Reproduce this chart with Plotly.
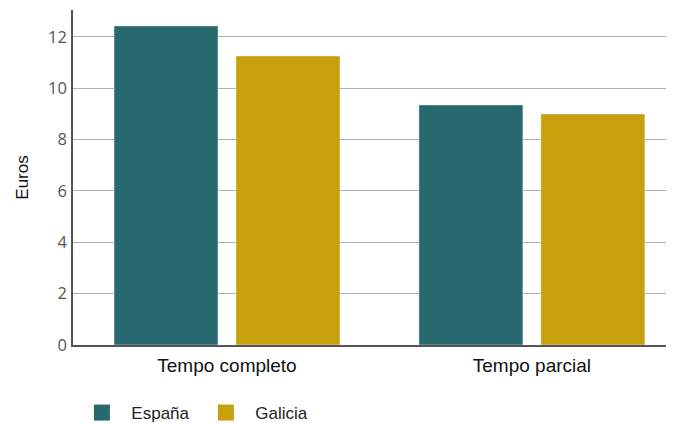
import plotly.graph_objects as go

categories = ["Tempo completo", "Tempo parcial"]
espana = [12.43, 9.35]
galicia = [11.26, 9.0]
y_ticks = [0, 2, 4, 6, 8, 10, 12]
series_names = ["España", "Galicia"]
colors = ["#27696e", "#c7a00c"]

fig = go.Figure()
for name, vals, col in zip(series_names, [espana, galicia], colors):
    fig.add_trace(go.Bar(x=categories, y=vals, name=name, marker_color=col,
                         showlegend=False))
# legend entries (larger square swatches)
for name, col in zip(series_names, colors):
    fig.add_trace(go.Scatter(x=[None], y=[None], mode="markers", name="\u00a0\u00a0" + name,
                             marker=dict(symbol="square", size=16, color=col),
                             showlegend=True))

fig.update_layout(
    width=666, height=415,
    margin=dict(l=65, r=0, t=2, b=78, autoexpand=False),
    plot_bgcolor="white", paper_bgcolor="white",
    barmode="group", bargap=0.2, bargroupgap=0.1475,
    font=dict(family="Liberation Sans, Arial", color="#222"),
    showlegend=True,
    legend=dict(orientation="h", x=0.0148, xanchor="left", y=-0.203, yanchor="middle",
                font=dict(size=17, family="Liberation Sans, Arial", color="#222"),
                entrywidth=79, entrywidthmode="pixels", traceorder="normal"),
)
fig.update_xaxes(
    range=[-0.505, 1.466], showgrid=False,
    showline=True, linecolor="#555", linewidth=1.5,
    tickfont=dict(size=19, family="Liberation Sans, Arial", color="#111"),
    ticks="outside", ticklen=2, tickcolor="rgba(0,0,0,0)",
)
fig.update_yaxes(
    range=[0, 13.05], tickvals=y_ticks,
    showgrid=True, gridcolor="#b0b0b0", gridwidth=1,
    showline=True, linecolor="#555", linewidth=1.5, zeroline=False,
    tickfont=dict(size=16.5, family="Open Sans", color="#555"),
    ticks="outside", ticklen=1, tickcolor="rgba(0,0,0,0)",
    title=dict(text="Euros", font=dict(size=17, family="Liberation Sans, Arial", color="#111"), standoff=15),
)
fig.write_html("out.html")
